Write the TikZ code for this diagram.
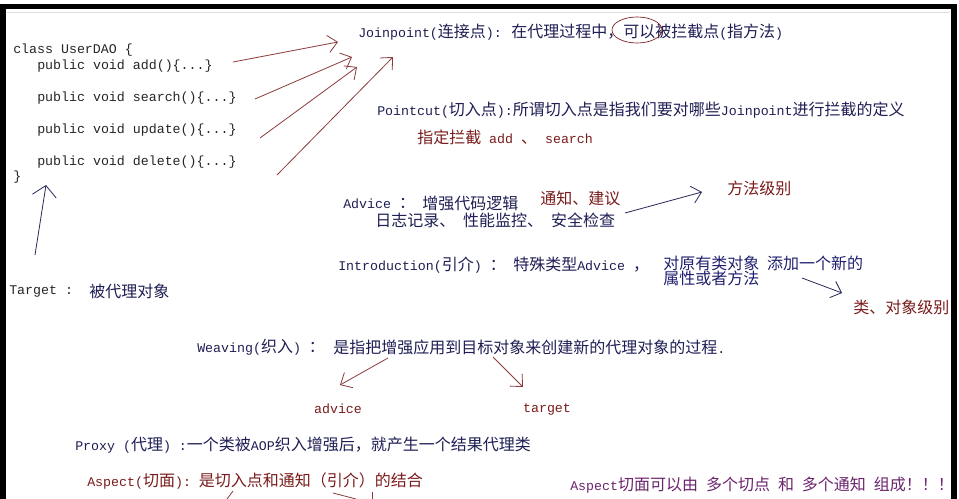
\documentclass[tikz,border=0pt]{standalone}
\usepackage{fontspec}
\setmainfont{Noto Sans CJK SC}
\setmonofont{Liberation Mono}[Scale=0.83]
\usetikzlibrary{arrows.meta,shapes.geometric}
\definecolor{codec}{HTML}{262626}
\definecolor{navy}{HTML}{1F1F55}
\definecolor{navyb}{HTML}{202070}
\definecolor{dred}{HTML}{7A1C1C}
\definecolor{jarr}{HTML}{8B3B3B}
\definecolor{narr}{HTML}{2A2A5A}
\definecolor{purp}{HTML}{6B246E}
\newcommand\mo[1]{\texttt{#1}}
\begin{document}
\begin{tikzpicture}[x=0.75pt,y=-0.75pt,
  txt/.style={inner sep=0pt,anchor=west,font=\fontsize{12}{14}\selectfont},
  code/.style={txt,font=\fontsize{12}{14}\selectfont\ttfamily,text=codec},
  barb/.style={-{Straight Barb[length=7pt,width=13pt]},line width=0.6pt},
]
\useasboundingbox (0,0) rectangle (959,499);
\fill[white] (0,0) rectangle (959,499);
% frame
\fill[black] (0,4) rectangle (957,9);
\fill[black] (0,4) rectangle (6,499);
\fill[black] (951,4) rectangle (957,499);
\draw[gray!25,line width=0.5pt] (7,12) -- (950,12);

% code
\node[code] (cls) at (13,50) {class~UserDAO~\{};
\node[code] (add) at (37,66) {public~void~add()\{...\}};
\node[code] (search) at (37,98) {public~void~search()\{...\}};
\node[code] (upd) at (37,130) {public~void~update()\{...\}};
\node[code] (del) at (37,162) {public~void~delete()\{...\}};
\node[code] (close) at (13,177) {\}};

% target
\node[txt,text=codec] (tgtl) at (9,291) {\mo{Target~:}};
\node[txt,text=navy] (tgtc) at (89,291) {被代理对象};
\coordinate (t1s) at (35,255);
\coordinate (t1e) at (46,185);
\draw[barb,narr,-{Straight Barb[length=8pt,width=18pt]}] (t1s) -- (t1e);

% joinpoint
\node[txt,text=navy] (jp) at (358,32) {\mo{Joinpoint(}连接点\mo{):}};
\node[txt,text=navy] (jp2) at (511,32) {在代理过程中，可以被拦截点\mo{(}指方法\mo{)}};
\node[ellipse,draw=dred,line width=0.5pt,minimum width=37.5pt,minimum height=19.5pt,inner sep=0pt] (oval) at (637,30) {};
\coordinate (j1s) at (233,62);  \coordinate (j1e) at (338,42);
\coordinate (j2s) at (255,99);  \coordinate (j2e) at (352,57);
\coordinate (j3s) at (260,138); \coordinate (j3e) at (357,67);
\coordinate (j4s) at (277,175); \coordinate (j4e) at (393,57);
\draw[barb,jarr] (j1s) -- (j1e);
\draw[barb,jarr] (j2s) -- (j2e);
\draw[barb,jarr] (j3s) -- (j3e);
\draw[barb,jarr] (j4s) -- (j4e);

% pointcut
\node[txt,text=navy] (pc) at (377,110) {\mo{Pointcut(}切入点\mo{):}所谓切入点是指我们要对哪些\mo{Joinpoint}进行拦截的定义};
\node[txt,text=dred] (pc2) at (417,137) {指定拦截\mo{~add~}、\mo{~search}};

% advice
\node[txt,text=navy] (adv) at (343,203) {\mo{Advice~}：};
\node[txt,text=navy] (adv2) at (422,203) {增强代码逻辑};
\node[txt,text=dred] (tz) at (540,198) {通知、建议};
\node[txt,text=navy] (adv3) at (375,220) {日志记录、\mo{~}性能监控、\mo{~}安全检查};
\coordinate (a1) at (625,213); \coordinate (a2) at (702,192);
\draw[barb,narr] (a1) -- (a2);
\node[txt,text=dred] (ff) at (727,188) {方法级别};

% introduction
\node[txt,text=navy] (intro) at (338,265) {\mo{Introduction(}引介\mo{)~}：};
\node[txt,text=navy] (intro2) at (513,265) {特殊类型\mo{Advice~}，};
\node[txt,text=navyb] (intro3) at (663,263) {对原有类对象\mo{~}添加一个新的};
\node[txt,text=navyb] (intro4) at (663,278) {属性或者方法};
\coordinate (i1) at (802,278); \coordinate (i2) at (842,293);
\draw[barb,narr] (i1) -- (i2);
\node[txt,text=dred] (lvl) at (853,307) {类、对象级别};

% weaving
\node[txt,text=navy] (wv) at (197,347) {\mo{Weaving(}织入\mo{)~}：};
\node[txt,text=navy] (wv2) at (333,347) {是指把增强应用到目标对象来创建新的代理对象的过程\mo{.}};
\coordinate (w1s) at (388,358); \coordinate (w1e) at (340,385);
\coordinate (w2s) at (493,357); \coordinate (w2e) at (523,387);
\draw[barb,jarr] (w1s) -- (w1e);
\draw[barb,jarr] (w2s) -- (w2e);
\node[txt,anchor=center,text=dred] (advl) at (338,409) {\mo{advice}};
\node[txt,anchor=center,text=dred] (tgtw) at (547,409) {\mo{target}};

% proxy / aspect
\node[txt,text=navy] (px) at (75,445) {\mo{Proxy~(}代理\mo{)~:}一个类被\mo{AOP}织入增强后，就产生一个结果代理类};
\node[txt,text=dred] (asp) at (87,481) {\mo{Aspect(}切面\mo{):~}是切入点和通知（引介）的结合};
\node[txt,text=purp] (asp2) at (570,485) {\mo{Aspect}切面可以由\mo{~}多个切点\mo{~}和\mo{~}多个通知\mo{~}组成！！！};
\coordinate (f1a) at (227,499); \coordinate (f1b) at (233,491);
\coordinate (f2a) at (333,493); \coordinate (f2b) at (356,499);
\coordinate (f3a) at (372,492); \coordinate (f3b) at (372,499);
\draw[jarr,line width=0.6pt] (f1a) -- (f1b);
\draw[jarr,line width=0.6pt] (f2a) -- (f2b);
\draw[jarr,line width=0.6pt] (f3a) -- (f3b);
\end{tikzpicture}
\end{document}
